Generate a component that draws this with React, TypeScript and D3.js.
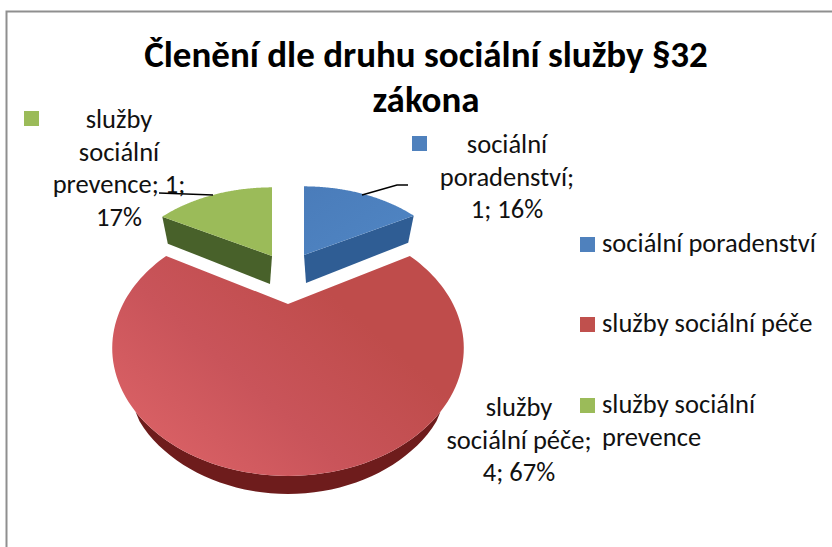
import React from "react";
import * as d3 from "d3";

const categories = ["sociální poradenství", "služby sociální péče", "služby sociální prevence"];
const seriesValues = [1, 4, 1];
const colors = ["#4f81bd", "#c0504d", "#9bbb59"];
const darkColors = ["#2f5d94", "#6e1c1c", "#48612a"];
const titleLines = ["Členění dle druhu sociální služby §32", "zákona"];
const labelLines = [
  ["sociální", "poradenství;", "1; 16%"],
  ["služby", "sociální péče;", "4; 67%"],
  ["služby", "sociální", "prevence; 1;", "17%"],
];
const legendLines = [["sociální poradenství"], ["služby sociální péče"], ["služby sociální", "prevence"]];

const FONT = "Carlito, Calibri, 'Open Sans', 'Noto Sans', sans-serif";
const LINE = 32.5;

// perspective projection of the pie's unit disc onto the page
const persp = 0.345;
const project = (a: number, sx: number, sy: number, ax: number, ay: number): [number, number] => {
  const u = Math.sin(a);
  const v = Math.cos(a);
  const s = 1 / (1 + persp * v);
  return [ax + 165 * sx * u * s, ay - 112.6 * sy * v * s];
};

const pieAngles = d3.pie<number>().sort(null)(seriesValues);

const wedgeLayout = [
  { ax: 304, ay: 255, sx: 0.9, sy: 0.82, depth: 27, inset: 0.95 },
  { ax: 288, ay: 304, sx: 1, sy: 1, depth: 18, inset: 1 },
  { ax: 272, ay: 256, sx: 0.9, sy: 0.82, depth: 27, inset: 0.95 },
];

const line = d3.line<[number, number]>();

function rim(i: number) {
  const p = pieAngles[i];
  const l = wedgeLayout[i];
  return d3.range(0, 121).map((k) => {
    const a = p.startAngle + ((p.endAngle - p.startAngle) * k) / 120;
    return project(a, l.sx, l.sy, l.ax, l.ay);
  });
}

function topPath(i: number) {
  const l = wedgeLayout[i];
  return line([[l.ax, l.ay], ...rim(i)]) + "Z";
}

function sidePath(i: number) {
  const l = wedgeLayout[i];
  const r = rim(i);
  const drop = ([x, y]: [number, number]): [number, number] => [l.ax + (x - l.ax) * l.inset, y + l.depth];
  if (i === 1) {
    // only the front of the red rim is visible; the band tapers out at both ends
    const front = r.slice(38, 83);
    const lower = front.map(([x, y], j): [number, number] => {
      const t = Math.sqrt(Math.sin((Math.PI * j) / (front.length - 1)));
      return [x, y + l.depth * t];
    });
    return line([...front, ...lower.reverse()]) + "Z";
  }
  const edge = i === 0 ? r[120] : r[0];
  return line([[l.ax, l.ay], edge, drop(edge), [l.ax + (i === 0 ? 2 : -2), l.ay + 28]]) + "Z";
}

const labelPos = [
  { x: 507, y: 153 },
  { x: 519, y: 416 },
  { x: 119, y: 128 },
];
const labelKeys = [
  { x: 412, y: 136 },
  null,
  { x: 24, y: 111 },
];
const legendPos = [
  { x: 580, y: 237 },
  { x: 580, y: 317 },
  { x: 580, y: 398 },
];

export default function App() {
  return (
    <svg
      width={832}
      height={547}
      style={{ position: "absolute", left: 0, top: 0, background: "#fff", fontFamily: FONT }}
    >
      <defs>
        <linearGradient id="redTop" x1="0.05" y1="0.85" x2="0.75" y2="0.35">
          <stop offset="0" stopColor="#db6266" />
          <stop offset="0.5" stopColor="#c9545a" />
          <stop offset="1" stopColor="#bf4c4b" />
        </linearGradient>
        <linearGradient id="blueTop" x1="0" y1="0" x2="1" y2="1">
          <stop offset="0" stopColor="#4a7cba" />
          <stop offset="1" stopColor="#5086c4" />
        </linearGradient>
      </defs>
      <path d="M6.5 547 V11.5 H832" fill="none" stroke="#8f8f8f" strokeWidth={2} />

      {titleLines.map((t, i) => (
        <text key={t} x={426} y={67 + i * 45} textAnchor="middle" fontSize={37} fontWeight={700} fill="#000">
          {t}
        </text>
      ))}

      {seriesValues.map((_, i) => (
        <path key={"s" + i} d={sidePath(i)} fill={darkColors[i]} />
      ))}
      {seriesValues.map((_, i) => (
        <path key={"t" + i} d={topPath(i)} fill={i === 1 ? "url(#redTop)" : i === 0 ? "url(#blueTop)" : colors[i]} />
      ))}

      <path d="M362 195 L397 185 L408 185" fill="none" stroke="#000" strokeWidth={1.5} />
      <path d="M159 193 L213 195" fill="none" stroke="#000" strokeWidth={1.5} />

      {labelKeys.map((k, i) =>
        k ? <rect key={"k" + i} x={k.x} y={k.y} width={15} height={15} fill={colors[i]} /> : null
      )}
      {labelLines.map((lines, i) =>
        lines.map((t, j) => (
          <text key={t} x={labelPos[i].x} y={labelPos[i].y + j * LINE} textAnchor="middle" fontSize={26.5} fill="#111">
            {t}
          </text>
        ))
      )}

      {categories.map((c, i) => (
        <g key={c}>
          <rect x={legendPos[i].x} y={legendPos[i].y} width={15} height={15} fill={colors[i]} />
          {legendLines[i].map((t, j) => (
            <text key={t} x={602} y={legendPos[i].y + 15 + j * LINE} fontSize={26.5} fill="#111">
              {t}
            </text>
          ))}
        </g>
      ))}
    </svg>
  );
}
